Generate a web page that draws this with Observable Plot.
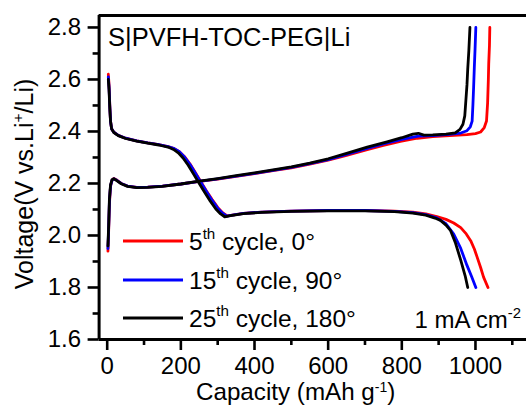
<!DOCTYPE html>
<html>
<head>
<meta charset="utf-8">
<script src="https://cdn.jsdelivr.net/npm/d3@7"></script>
<script src="https://cdn.jsdelivr.net/npm/@observablehq/plot@0.6"></script>
<style>
  html, body { margin: 0; padding: 0; background: white; }
  svg { display: block; }
</style>
</head>
<body>
<div id="chart"></div>
<script>
// ---- Data (capacity mAh/g, voltage V) ----
const seriesNames = ["5th cycle, 0°", "15th cycle, 90°", "25th cycle, 180°"];
const seriesColors = ["#ff0000", "#0000ff", "#000000"];

const discharge5 = [[3,2.62],[5,2.58],[7,2.50],[9,2.44],[12,2.41],[18,2.397],[30,2.385],[50,2.374],[80,2.364],[110,2.356],[140,2.349],[165,2.342],[182,2.334],[196,2.322],[210,2.303],[225,2.275],[240,2.24],[255,2.205],[270,2.17],[285,2.138],[300,2.108],[314,2.087],[326,2.075],[340,2.078],[370,2.085],[420,2.09],[500,2.094],[600,2.096],[700,2.096],[780,2.094],[830,2.09],[865,2.083],[895,2.073],[920,2.062],[941,2.048],[960,2.03],[975,2.006],[987,1.98],[997,1.948],[1005,1.915],[1014,1.877],[1022,1.84],[1034,1.80]];
const discharge15 = [[3,2.61],[5,2.57],[7,2.50],[9,2.44],[12,2.41],[18,2.397],[30,2.385],[50,2.374],[80,2.364],[110,2.356],[140,2.349],[165,2.342],[182,2.334],[196,2.322],[210,2.302],[225,2.273],[240,2.238],[255,2.203],[270,2.168],[285,2.135],[300,2.105],[314,2.085],[325,2.074],[340,2.078],[370,2.085],[420,2.09],[500,2.094],[600,2.096],[700,2.096],[780,2.093],[830,2.088],[865,2.08],[895,2.068],[920,2.045],[941,2.005],[960,1.95],[977,1.885],[990,1.84],[1001,1.80]];
const discharge25 = [[3,2.60],[5,2.56],[7,2.49],[9,2.44],[12,2.41],[18,2.396],[30,2.384],[50,2.373],[80,2.363],[110,2.355],[140,2.348],[165,2.34],[180,2.331],[193,2.318],[206,2.298],[220,2.27],[235,2.235],[250,2.2],[265,2.165],[280,2.132],[295,2.102],[308,2.083],[319,2.072],[335,2.076],[370,2.084],[420,2.089],[500,2.093],[600,2.095],[700,2.095],[780,2.092],[830,2.086],[865,2.078],[890,2.067],[905,2.058],[920,2.04],[932,2.02],[946,1.97],[960,1.905],[972,1.845],[979,1.80]];

const charge5 = [[2,1.94],[4,2.02],[6,2.12],[9,2.19],[13,2.212],[18,2.219],[26,2.213],[38,2.2],[55,2.19],[80,2.185],[110,2.186],[150,2.19],[200,2.198],[250,2.208],[300,2.217],[350,2.227],[400,2.238],[450,2.249],[500,2.26],[550,2.274],[600,2.29],[650,2.308],[706,2.33],[750,2.346],[796,2.362],[842,2.374],[884,2.38],[930,2.384],[977,2.388],[1000,2.392],[1014,2.398],[1024,2.415],[1030,2.44],[1033,2.51],[1035,2.60],[1036,2.66],[1038,2.73],[1039,2.80]];
const charge15 = [[2,1.95],[4,2.03],[6,2.13],[9,2.19],[13,2.212],[18,2.218],[26,2.212],[38,2.2],[55,2.19],[80,2.185],[110,2.186],[150,2.19],[200,2.198],[250,2.208],[300,2.218],[350,2.228],[400,2.239],[450,2.25],[500,2.262],[550,2.276],[600,2.292],[650,2.312],[706,2.335],[750,2.352],[800,2.37],[845,2.382],[884,2.384],[930,2.389],[960,2.394],[977,2.403],[986,2.418],[991,2.44],[993,2.50],[995,2.57],[997,2.65],[999,2.72],[1001,2.80]];
const charge25 = [[2,1.96],[4,2.04],[6,2.14],[9,2.195],[13,2.214],[18,2.218],[26,2.211],[38,2.199],[55,2.189],[80,2.184],[110,2.185],[150,2.189],[200,2.198],[250,2.209],[300,2.219],[350,2.23],[400,2.241],[450,2.252],[500,2.264],[550,2.278],[600,2.295],[650,2.316],[706,2.34],[760,2.36],[800,2.376],[830,2.39],[845,2.393],[860,2.386],[884,2.387],[920,2.39],[945,2.395],[958,2.408],[966,2.428],[971,2.46],[974,2.52],[977,2.58],[979,2.64],[982,2.71],[985,2.80]];

// tick values
const xMajor = [0, 200, 400, 600, 800, 1000];
const xMinor = [100, 300, 500, 700, 900, 1100];
const yMajor = [1.6, 1.8, 2.0, 2.2, 2.4, 2.6, 2.8];
const yMinor = [1.7, 1.9, 2.1, 2.3, 2.5, 2.7];

// ---- build table ----
const curves = [
  {series: seriesNames[0], key: "d5", pts: discharge5},
  {series: seriesNames[0], key: "c5", pts: charge5},
  {series: seriesNames[1], key: "d15", pts: discharge15},
  {series: seriesNames[1], key: "c15", pts: charge15},
  {series: seriesNames[2], key: "d25", pts: discharge25},
  {series: seriesNames[2], key: "c25", pts: charge25}
];
const rows = curves.flatMap(c => c.pts.map(([cap, v]) => ({series: c.series, key: c.key, cap, v})));

const X0 = -22, X1 = 1150, Y0 = 1.6, Y1 = 2.846;
const FONT = "'Liberation Sans', Arial, Helvetica, sans-serif";

const plot = Plot.plot({
  width: 526,
  height: 408,
  marginLeft: 98.6,
  marginTop: 15,
  marginBottom: 69,
  marginRight: 0,
  x: {domain: [X0, X1], range: [98.6, 530.2], label: null},
  y: {domain: [Y0, Y1], range: [339, 15], label: null},
  color: {domain: seriesNames, range: seriesColors},
  style: {fontFamily: FONT, fontSize: "24px", color: "black", background: "white"},
  marks: [
    Plot.line(rows, {x: "cap", y: "v", z: "key", stroke: "series", strokeWidth: 2.8, strokeLinejoin: "round", curve: "linear"}),
    Plot.axisY(yMajor, {anchor: "left", tickSize: 11, tickPadding: 7, strokeWidth: 2.6, fontSize: 24, tickFormat: d => d.toFixed(1), label: null}),
    Plot.axisY(yMinor, {anchor: "left", tickSize: 6, strokeWidth: 2.6, tickFormat: () => "", label: null}),
    Plot.axisX(xMajor, {anchor: "bottom", tickSize: 11, tickPadding: 6, strokeWidth: 2.6, fontSize: 24, tickFormat: d => String(d), label: null}),
    Plot.axisX(xMinor, {anchor: "bottom", tickSize: 6, strokeWidth: 2.6, tickFormat: () => "", label: null}),
    Plot.ruleX([X0], {stroke: "black", strokeWidth: 3}),
    Plot.ruleY([Y0], {stroke: "black", strokeWidth: 3}),
    Plot.ruleY([Y1], {stroke: "black", strokeWidth: 3})
  ]
});

document.getElementById("chart").appendChild(plot);

// ---- annotations, titles, legend (rich text with superscripts) ----
const svg = d3.select(plot);
function richText(x, y, parts, opts = {}) {
  const size = opts.size || 24;
  const t = svg.append("text")
    .attr("x", x).attr("y", y)
    .attr("font-family", FONT)
    .attr("font-size", size)
    .attr("fill", "black")
    .attr("text-anchor", opts.anchor || "start");
  if (opts.rotate) t.attr("transform", `rotate(${opts.rotate},${x},${y})`);
  let raised = false;
  const sup = size * (opts.supScale || 0.62);
  const rise = size * (opts.rise || 0.42);
  parts.forEach(([s, isSup]) => {
    const ts = t.append("tspan").text(s);
    if (isSup && !raised) { ts.attr("dy", -rise).attr("font-size", sup); raised = true; }
    else if (isSup) { ts.attr("font-size", sup); }
    else if (!isSup && raised) { ts.attr("dy", rise); raised = false; }
  });
  return t;
}

richText(108, 46, [["S|PVFH-TOC-PEG|Li"]], {size: 25.5});
richText(521, 328, [["1 mA cm"], ["-2", true]], {anchor: "end"});
richText(196, 400, [["Capacity (mAh g"], ["-1", true], [")"]], {size: 24.2, rise: 0.34, supScale: 0.58});
richText(33, 184, [["Voltage(V vs.Li"], ["+", true], ["/Li)"]], {anchor: "middle", rotate: -90, size: 25});

// legend
const legendY = [241, 280, 318];
const legendLabels = [
  [["5"], ["th", true], [" cycle, 0°"]],
  [["15"], ["th", true], [" cycle, 90°"]],
  [["25"], ["th", true], [" cycle, 180°"]]
];
legendY.forEach((ly, i) => {
  svg.append("line").attr("x1", 123).attr("x2", 183).attr("y1", ly).attr("y2", ly)
    .attr("stroke", seriesColors[i]).attr("stroke-width", 3);
  richText(189, ly + 8.6, legendLabels[i], {size: 24.5});
});
</script>
</body>
</html>
